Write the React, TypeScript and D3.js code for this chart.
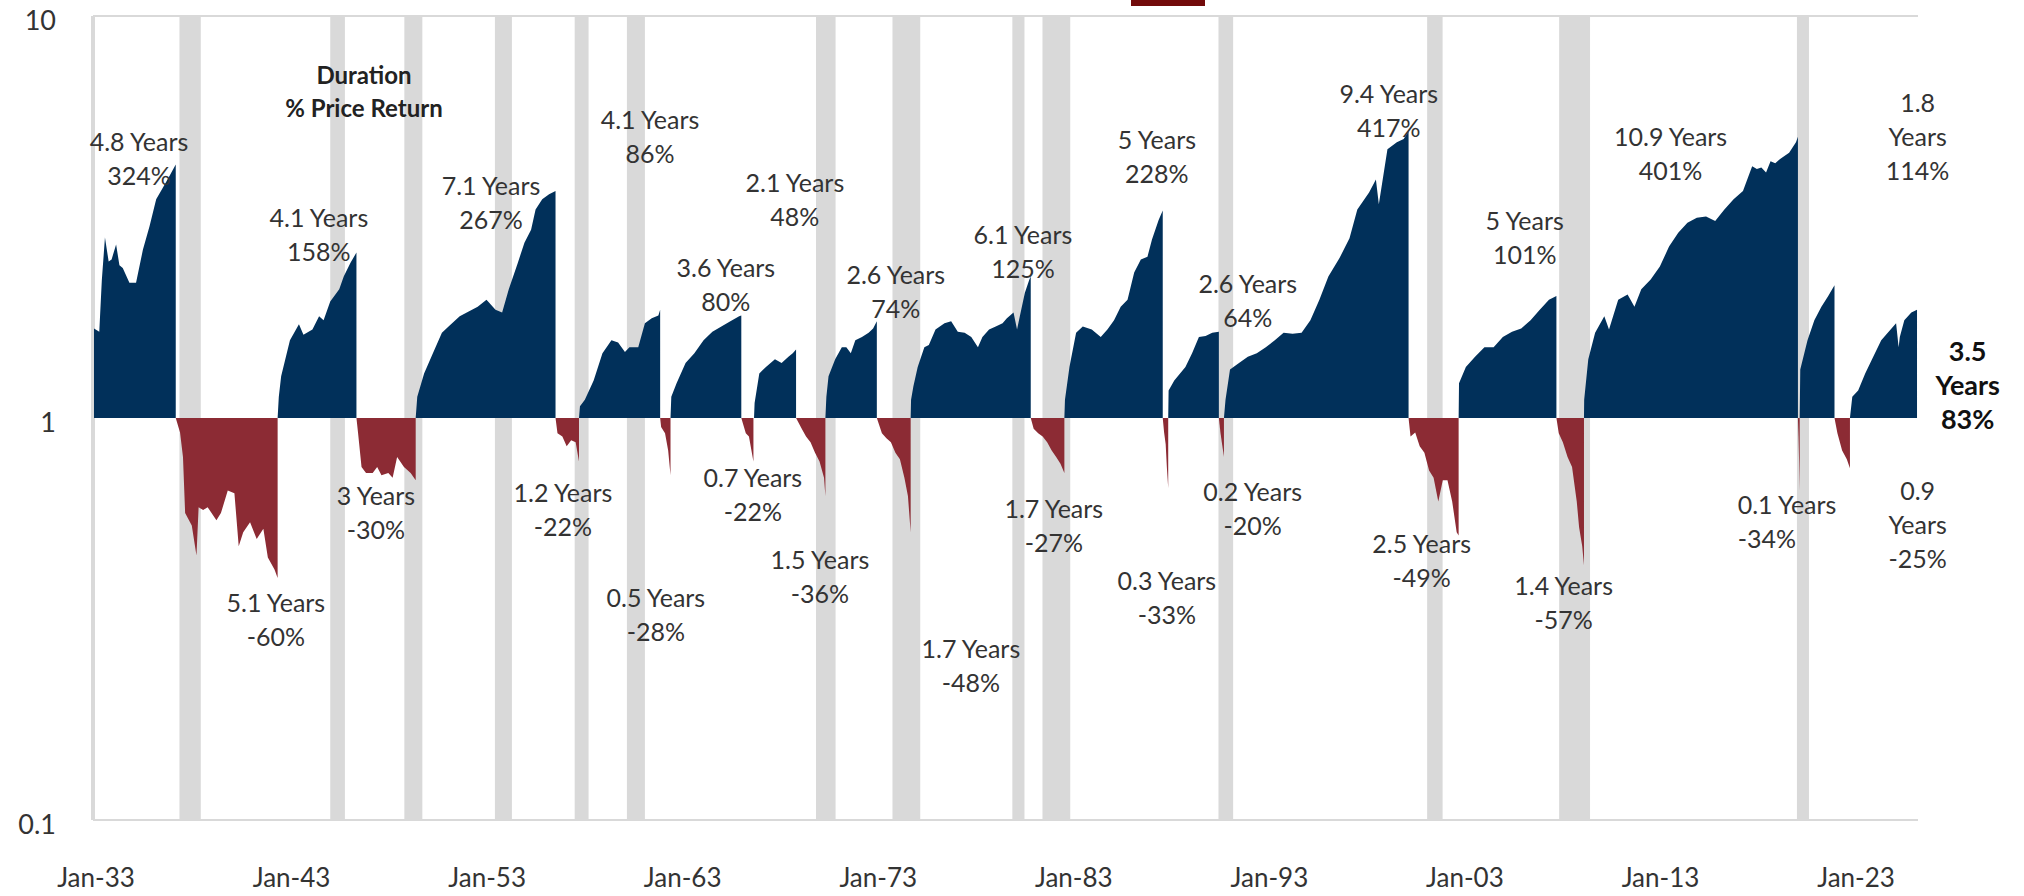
import * as d3 from "d3";

const WIDTH = 2024;
const HEIGHT = 896;
const PLOT = { left: 94, right: 1918, top: 16, bottom: 820 };
const BULL = "#01305a";
const BEAR = "#8c2b34";
const BAND = "#d9d9d9";
const FONT = "Lato, 'Open Sans', sans-serif";

type Pt = [number, number]; // [decimal year, index relative to cycle start]

// NBER recessions, decimal years
const recessions: Pt[] = [
  [1937.37, 1938.46], [1945.08, 1945.83], [1948.87, 1949.79], [1953.5, 1954.37],
  [1957.58, 1958.29], [1960.25, 1961.17], [1969.92, 1970.92], [1973.83, 1975.25],
  [1979.96, 1980.58], [1981.5, 1982.92], [1990.5, 1991.25], [2001.17, 2001.96],
  [2007.92, 2009.5], [2020.08, 2020.33],
];

const xTickYears = [1933, 1943, 1953, 1963, 1973, 1983, 1993, 2003, 2013, 2023];
const xTickLabels = ["Jan-33", "Jan-43", "Jan-53", "Jan-63", "Jan-73", "Jan-83", "Jan-93", "Jan-03", "Jan-13", "Jan-23"];
const yTicks = [0.1, 1, 10];
const yTickLabels = ["0.1", "1", "10"];

// cycle paths
const bull1932: Pt[] = [[1933.0, 1.67], [1933.27, 1.64], [1933.4, 2.2], [1933.56, 2.81], [1933.75, 2.45], [1933.9, 2.48], [1934.13, 2.7], [1934.3, 2.4], [1934.47, 2.36], [1934.81, 2.17], [1935.15, 2.17], [1935.5, 2.62], [1935.84, 3.0], [1936.18, 3.5], [1936.52, 3.74], [1936.86, 4.0], [1937.18, 4.27]];
const bear1937: Pt[] = [[1937.18, 1.0], [1937.4, 0.92], [1937.55, 0.8], [1937.66, 0.58], [1938.0, 0.54], [1938.24, 0.455], [1938.35, 0.6], [1938.58, 0.59], [1938.81, 0.6], [1939.26, 0.557], [1939.49, 0.58], [1939.84, 0.66], [1940.18, 0.65], [1940.4, 0.48], [1940.63, 0.52], [1940.98, 0.55], [1941.32, 0.5], [1941.66, 0.53], [1941.89, 0.45], [1942.23, 0.42], [1942.39, 0.4]];
const bull1942: Pt[] = [[1942.39, 1.0], [1942.45, 1.13], [1942.57, 1.27], [1943.02, 1.56], [1943.48, 1.71], [1943.71, 1.61], [1944.17, 1.66], [1944.51, 1.79], [1944.74, 1.75], [1945.08, 1.95], [1945.54, 2.09], [1945.77, 2.25], [1946.11, 2.43], [1946.42, 2.58]];
const bear1946: Pt[] = [[1946.42, 1.0], [1946.5, 0.92], [1946.68, 0.755], [1946.91, 0.73], [1947.25, 0.73], [1947.48, 0.755], [1947.7, 0.72], [1948.05, 0.73], [1948.27, 0.71], [1948.5, 0.8], [1948.85, 0.755], [1949.19, 0.73], [1949.45, 0.7]];
const bull1949: Pt[] = [[1949.45, 1.0], [1949.53, 1.13], [1949.88, 1.29], [1950.33, 1.45], [1950.79, 1.63], [1951.13, 1.69], [1951.7, 1.79], [1952.16, 1.84], [1952.62, 1.89], [1953.07, 1.97], [1953.53, 1.86], [1953.87, 1.83], [1954.21, 2.09], [1954.67, 2.43], [1955.01, 2.73], [1955.35, 2.94], [1955.58, 3.3], [1955.92, 3.5], [1956.27, 3.6], [1956.6, 3.67]];
const bear1956: Pt[] = [[1956.6, 1.0], [1956.7, 0.917], [1956.95, 0.9], [1957.17, 0.85], [1957.4, 0.88], [1957.63, 0.87], [1957.8, 0.78]];
const bull1957: Pt[] = [[1957.8, 1.0], [1957.85, 1.07], [1958.1, 1.11], [1958.55, 1.24], [1959.0, 1.45], [1959.46, 1.56], [1959.8, 1.54], [1960.15, 1.46], [1960.38, 1.5], [1960.83, 1.5], [1961.17, 1.72], [1961.52, 1.77], [1961.86, 1.8], [1961.95, 1.86]];
const bear1961: Pt[] = [[1961.95, 1.0], [1962.0, 0.95], [1962.2, 0.917], [1962.36, 0.83], [1962.48, 0.72]];
const bull1962: Pt[] = [[1962.48, 1.0], [1962.52, 1.13], [1962.79, 1.22], [1963.25, 1.37], [1963.7, 1.45], [1964.17, 1.56], [1964.62, 1.64], [1965.08, 1.69], [1965.54, 1.74], [1965.99, 1.79], [1966.1, 1.8]];
const bear1966: Pt[] = [[1966.1, 1.0], [1966.33, 0.917], [1966.49, 0.9], [1966.72, 0.78]];
const bull1966: Pt[] = [[1966.75, 1.0], [1966.78, 1.09], [1967.02, 1.29], [1967.36, 1.34], [1967.82, 1.4], [1968.16, 1.37], [1968.51, 1.42], [1968.73, 1.45], [1968.9, 1.48]];
const bear1968: Pt[] = [[1968.9, 1.0], [1969.19, 0.94], [1969.41, 0.9], [1969.64, 0.87], [1969.87, 0.82], [1970.1, 0.78], [1970.33, 0.71], [1970.4, 0.64]];
const bull1970: Pt[] = [[1970.4, 1.0], [1970.45, 1.13], [1970.56, 1.27], [1970.9, 1.4], [1971.24, 1.5], [1971.47, 1.5], [1971.7, 1.45], [1971.93, 1.56], [1972.27, 1.59], [1972.61, 1.63], [1972.84, 1.67], [1973.03, 1.74]];
const bear1973: Pt[] = [[1973.03, 1.0], [1973.29, 0.917], [1973.52, 0.89], [1973.75, 0.87], [1973.98, 0.82], [1974.21, 0.79], [1974.44, 0.71], [1974.62, 0.64], [1974.76, 0.52]];
const bull1974: Pt[] = [[1974.76, 1.0], [1974.78, 1.11], [1974.9, 1.2], [1975.12, 1.34], [1975.46, 1.5], [1975.69, 1.52], [1976.03, 1.66], [1976.49, 1.72], [1976.83, 1.74], [1977.17, 1.64], [1977.52, 1.63], [1977.86, 1.59], [1978.2, 1.5], [1978.43, 1.59], [1978.77, 1.66], [1979.11, 1.69], [1979.46, 1.72], [1979.68, 1.77], [1980.02, 1.83], [1980.2, 1.66], [1980.35, 1.8], [1980.6, 2.05], [1980.83, 2.21], [1980.9, 2.25]];
const bear1980: Pt[] = [[1980.9, 1.0], [1981.05, 0.94], [1981.28, 0.917], [1981.51, 0.9], [1981.74, 0.87], [1981.97, 0.83], [1982.2, 0.8], [1982.42, 0.77], [1982.62, 0.73]];
const bull1982: Pt[] = [[1982.62, 1.0], [1982.65, 1.11], [1982.88, 1.34], [1983.22, 1.63], [1983.56, 1.69], [1984.02, 1.66], [1984.48, 1.59], [1984.82, 1.66], [1985.16, 1.75], [1985.5, 1.89], [1985.85, 1.97], [1986.19, 2.3], [1986.53, 2.48], [1986.87, 2.52], [1987.1, 2.78], [1987.44, 3.11], [1987.65, 3.28]];
const bear1987: Pt[] = [[1987.65, 1.0], [1987.72, 0.92], [1987.8, 0.86], [1987.86, 0.755], [1987.93, 0.67]];
const bull1987: Pt[] = [[1987.93, 1.0], [1987.95, 1.17], [1988.24, 1.24], [1988.81, 1.34], [1989.15, 1.45], [1989.5, 1.59], [1989.84, 1.6], [1990.18, 1.63], [1990.52, 1.64]];
const bear1990: Pt[] = [[1990.52, 1.0], [1990.6, 0.92], [1990.7, 0.85], [1990.78, 0.8]];
const bull1990: Pt[] = [[1990.78, 1.0], [1990.86, 1.11], [1991.09, 1.32], [1991.55, 1.37], [1992.0, 1.42], [1992.46, 1.45], [1992.92, 1.5], [1993.38, 1.56], [1993.83, 1.63], [1994.29, 1.62], [1994.75, 1.63], [1995.2, 1.75], [1995.66, 1.97], [1996.12, 2.25], [1996.69, 2.5], [1997.2, 2.8], [1997.6, 3.3], [1998.2, 3.64], [1998.55, 3.92], [1998.7, 3.4], [1999.14, 4.66], [1999.62, 4.85], [1999.97, 4.94], [2000.22, 5.17]];
const bear2000: Pt[] = [[2000.22, 1.0], [2000.32, 0.9], [2000.56, 0.92], [2000.79, 0.85], [2001.03, 0.82], [2001.27, 0.74], [2001.5, 0.71], [2001.74, 0.62], [2001.97, 0.7], [2002.21, 0.7], [2002.45, 0.62], [2002.68, 0.52], [2002.78, 0.51]];
const bull2002: Pt[] = [[2002.78, 1.0], [2002.8, 1.22], [2003.15, 1.34], [2003.62, 1.42], [2004.1, 1.5], [2004.57, 1.5], [2005.04, 1.59], [2005.51, 1.64], [2005.98, 1.67], [2006.46, 1.75], [2006.93, 1.86], [2007.4, 1.97], [2007.78, 2.01]];
const bear2007: Pt[] = [[2007.78, 1.0], [2007.9, 0.917], [2008.11, 0.87], [2008.35, 0.8], [2008.58, 0.755], [2008.82, 0.62], [2008.94, 0.535], [2009.1, 0.48], [2009.19, 0.43]];
const bull2009: Pt[] = [[2009.19, 1.0], [2009.2, 1.11], [2009.41, 1.4], [2009.76, 1.63], [2010.23, 1.79], [2010.47, 1.66], [2010.94, 1.97], [2011.42, 2.03], [2011.77, 1.89], [2012.12, 2.09], [2012.6, 2.21], [2013.07, 2.38], [2013.54, 2.67], [2014.01, 2.89], [2014.48, 3.06], [2014.96, 3.15], [2015.43, 3.17], [2015.9, 3.09], [2016.37, 3.3], [2016.84, 3.5], [2017.32, 3.67], [2017.79, 4.23], [2018.03, 4.16], [2018.26, 4.2], [2018.5, 4.08], [2018.73, 4.35], [2018.97, 4.3], [2019.2, 4.4], [2019.68, 4.57], [2020.03, 4.85], [2020.13, 5.01]];
const bear2020: Pt[] = [[2020.13, 1.0], [2020.16, 0.9], [2020.19, 0.78], [2020.22, 0.66]];
const bull2020: Pt[] = [[2020.22, 1.0], [2020.25, 1.32], [2020.62, 1.56], [2020.97, 1.75], [2021.33, 1.89], [2021.68, 2.01], [2022.0, 2.14]];
const bear2022: Pt[] = [[2022.0, 1.0], [2022.15, 0.917], [2022.39, 0.83], [2022.63, 0.79], [2022.79, 0.75]];
const bull2022: Pt[] = [[2022.79, 1.0], [2022.91, 1.13], [2023.21, 1.17], [2023.57, 1.29], [2023.92, 1.4], [2024.39, 1.56], [2024.87, 1.66], [2025.15, 1.72], [2025.28, 1.5], [2025.34, 1.59], [2025.57, 1.75], [2025.93, 1.83], [2026.22, 1.86]];

const cycles: Pt[][] = [
  bull1932, bear1937, bull1942, bear1946, bull1949, bear1956, bull1957, bear1961,
  bull1962, bear1966, bull1966, bear1968, bull1970, bear1973, bull1974, bear1980,
  bull1982, bear1987, bull1987, bear1990, bull1990, bear2000, bull2002, bear2007,
  bull2009, bear2020, bull2020, bear2022, bull2022,
];
const cycleDuration = [
  "4.8 Years", "5.1 Years", "4.1 Years", "3 Years", "7.1 Years", "1.2 Years", "4.1 Years", "0.5 Years",
  "3.6 Years", "0.7 Years", "2.1 Years", "1.5 Years", "2.6 Years", "1.7 Years", "6.1 Years", "1.7 Years",
  "5 Years", "0.3 Years", "2.6 Years", "0.2 Years", "9.4 Years", "2.5 Years", "5 Years", "1.4 Years",
  "10.9 Years", "0.1 Years", "1.8 Years", "0.9 Years", "3.5 Years",
];
const cycleReturn = [
  "324%", "-60%", "158%", "-30%", "267%", "-22%", "86%", "-28%",
  "80%", "-22%", "48%", "-36%", "74%", "-48%", "125%", "-27%",
  "228%", "-33%", "64%", "-20%", "417%", "-49%", "101%", "-57%",
  "401%", "-34%", "114%", "-25%", "83%",
];

// label layout: anchor in chart space [year, value] for first line
type LabelLayout = { at: Pt; anchor?: "start" | "middle"; stack?: boolean; bold?: boolean };
const LABELS: LabelLayout[] = [
  { at: [1935.3, 4.88] }, { at: [1942.3, 0.348] }, { at: [1944.5, 3.17] }, { at: [1947.42, 0.643] },
  { at: [1953.3, 3.79] }, { at: [1956.98, 0.654] }, { at: [1961.43, 5.54] }, { at: [1961.73, 0.358] },
  { at: [1965.31, 2.37] }, { at: [1966.69, 0.712] }, { at: [1968.84, 3.855] }, { at: [1970.12, 0.445] },
  { at: [1974.0, 2.286] }, { at: [1977.84, 0.2685] }, { at: [1980.5, 2.876] }, { at: [1982.08, 0.5965] },
  { at: [1987.35, 4.935] }, { at: [1987.86, 0.3945] }, { at: [1992.0, 2.17] }, { at: [1992.25, 0.658] },
  { at: [1999.21, 6.43] }, { at: [2000.89, 0.488] }, { at: [2006.16, 3.1] }, { at: [2008.15, 0.3834] },
  { at: [2013.62, 5.02] }, { at: [2017.05, 0.61], anchor: "start" },
  { at: [2026.25, 6.1], stack: true }, { at: [2026.25, 0.661], stack: true },
  { at: [2028.81, 1.47], stack: true, bold: true },
];
const LINE_GAP = 34;

const App = () => {
  const x = d3.scaleLinear().domain([1933, 2026.27]).range([PLOT.left, PLOT.right]);
  const y = d3.scaleLog().domain([0.1, 10]).range([PLOT.bottom, PLOT.top]);

  const area = d3
    .area<Pt>()
    .x((d) => x(d[0]))
    .y0(y(1))
    .y1((d) => y(d[1]));

  return (
    <svg
      width={WIDTH}
      height={HEIGHT}
      style={{ position: "absolute", left: 0, top: 0, background: "#fff" }}
      fontFamily={FONT}
    >
      <rect width={WIDTH} height={HEIGHT} fill="#fff" />

      {/* legend swatch, cropped at the top edge as in the source */}
      <rect x={1131} y={-20} width={74} height={26} fill="#720b0b" />

      {/* recession bands */}
      {recessions.map(([s, e], i) => {
        const w = Math.max(x(e) - x(s), 12);
        return <rect key={i} x={x(s)} y={PLOT.top} width={w} height={PLOT.bottom - PLOT.top} fill={BAND} />;
      })}

      {/* frame lines */}
      <line x1={PLOT.left - 1} x2={PLOT.right} y1={PLOT.top} y2={PLOT.top} stroke={BAND} strokeWidth={2} />
      <line x1={PLOT.left - 1} x2={PLOT.right} y1={PLOT.bottom} y2={PLOT.bottom} stroke={BAND} strokeWidth={2} />
      <line x1={PLOT.left - 1} x2={PLOT.left - 1} y1={PLOT.top} y2={PLOT.bottom} stroke={BAND} strokeWidth={4} />

      {/* bull / bear areas */}
      {cycles.map((c, i) => (
        <path key={i} d={area(c) ?? ""} fill={c[c.length - 1][1] >= 1 ? BULL : BEAR} />
      ))}

      {/* y axis labels */}
      {yTicks.map((t, i) => (
        <text key={t} x={56} y={y(t) + 3} textAnchor="end" dominantBaseline="central" fontSize={27} fill="#333">
          {yTickLabels[i]}
        </text>
      ))}

      {/* x axis labels */}
      {xTickYears.map((t, i) => (
        <text key={t} x={x(t) + 2} y={877} textAnchor="middle" dominantBaseline="central" fontSize={26} fill="#333">
          {xTickLabels[i]}
        </text>
      ))}

      {/* header */}
      <text x={364} y={74} textAnchor="middle" dominantBaseline="central" fontSize={24} fontWeight={700} fill="#222">
        Duration
      </text>
      <text x={364} y={107} textAnchor="middle" dominantBaseline="central" fontSize={24} fontWeight={700} fill="#222">
        % Price Return
      </text>

      {/* cycle labels */}
      {LABELS.map((l, i) => {
        const lines = l.stack
          ? [cycleDuration[i].replace(" Years", ""), "Years", cycleReturn[i]]
          : [cycleDuration[i], cycleReturn[i]];
        const lx = x(l.at[0]);
        const ly = y(l.at[1]);
        return (
          <g key={i}>
            {lines.map((s, j) => (
              <text
                key={j}
                x={lx}
                y={ly + j * LINE_GAP}
                textAnchor={l.anchor ?? "middle"}
                dominantBaseline="central"
                fontSize={l.bold ? 27 : 25}
                fontWeight={l.bold ? 700 : 400}
                fill={l.bold ? "#111" : "#333"}
              >
                {s}
              </text>
            ))}
          </g>
        );
      })}
    </svg>
  );
};

export default App;
